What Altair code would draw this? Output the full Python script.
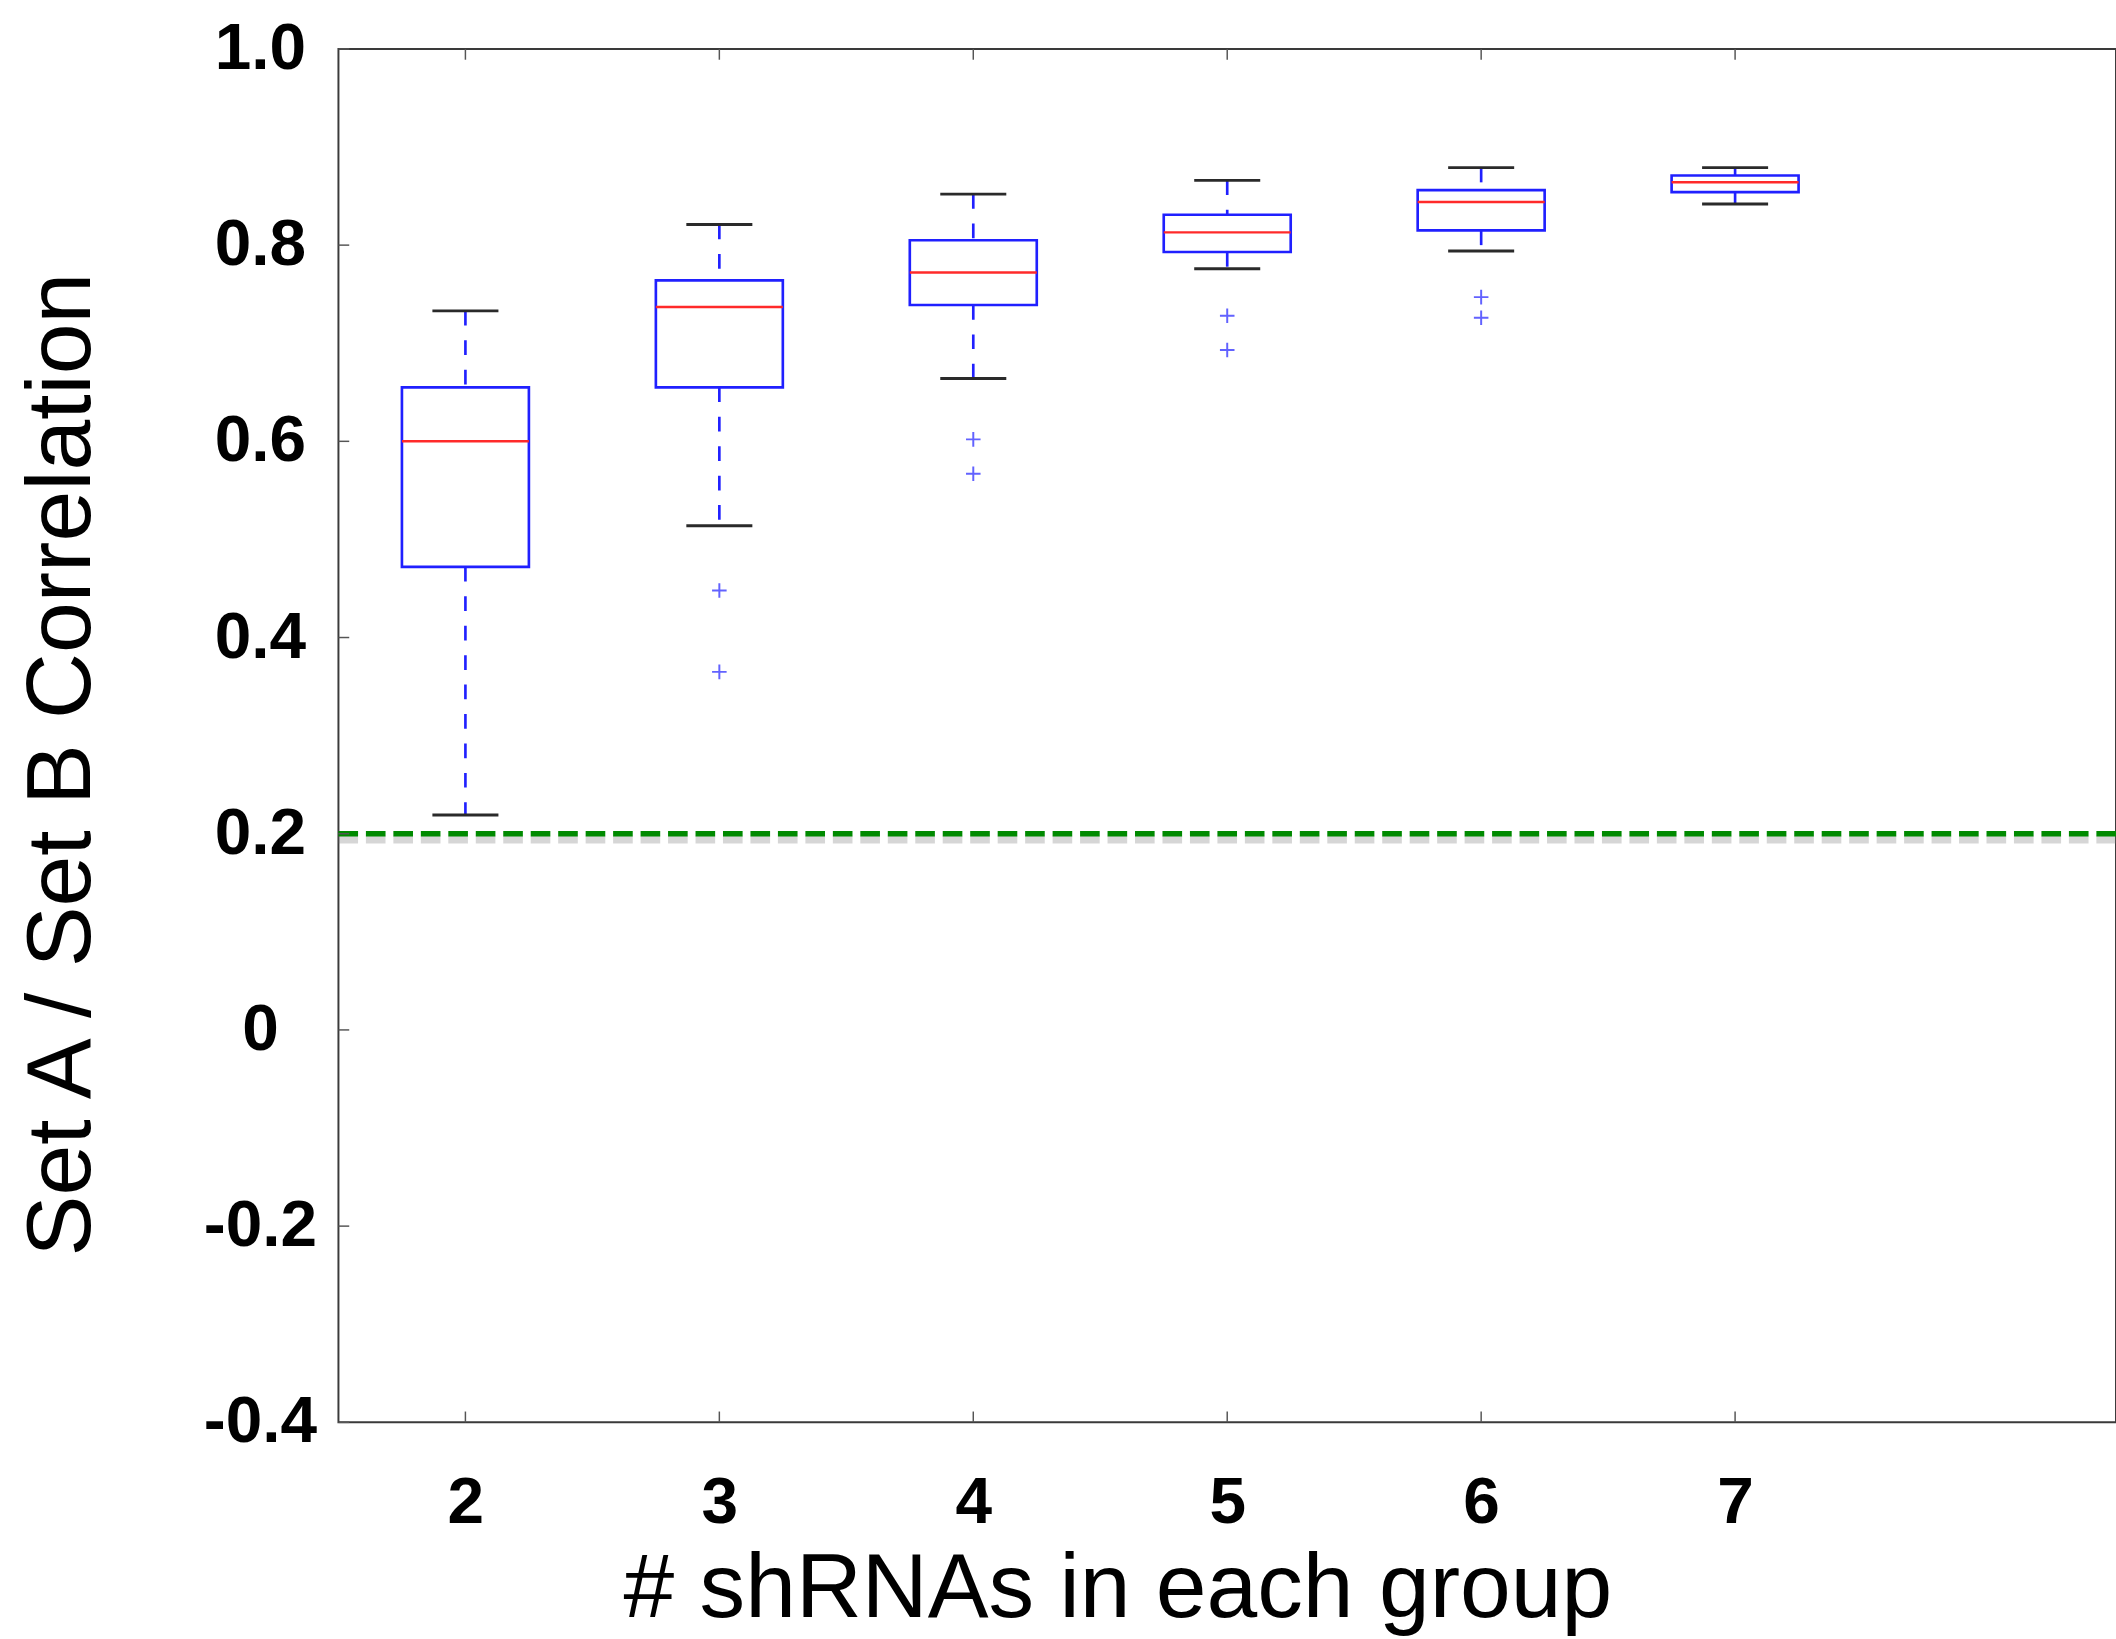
import altair as alt
import pandas as pd

# ---- data ----
groups = [2, 3, 4, 5, 6, 7]
whisker_low = [0.219, 0.514, 0.664, 0.776, 0.794, 0.842]
q1 = [0.472, 0.655, 0.739, 0.793, 0.815, 0.854]
median = [0.600, 0.737, 0.772, 0.813, 0.844, 0.864]
q3 = [0.655, 0.764, 0.805, 0.831, 0.856, 0.871]
whisker_high = [0.733, 0.821, 0.852, 0.866, 0.879, 0.879]

outlier_group = [3, 3, 4, 4, 5, 5, 6, 6]
outlier_value = [0.448, 0.365, 0.602, 0.567, 0.728, 0.693, 0.747, 0.726]

baseline_value = [0.2]

x_ticks = [2, 3, 4, 5, 6, 7]
y_ticks = [-0.4, -0.2, 0.0, 0.2, 0.4, 0.6, 0.8, 1.0]

# ---- layout ----
W, H = 1812, 1400
FONT = "Liberation Sans"
BLUE = "#2020ff"
RED = "#ff2a2a"

boxes = pd.DataFrame({
    "g": groups, "lo": whisker_low, "q1": q1, "med": median,
    "q3": q3, "hi": whisker_high,
})
outl = pd.DataFrame({"g": outlier_group, "v": outlier_value})
base = pd.DataFrame({"v": baseline_value, "g0": [1.5], "g1": [8.5]})
xt = pd.DataFrame({"t": x_ticks})
yt = pd.DataFrame({"t": y_ticks})

xscale = alt.Scale(domain=[1.5, 8.5], nice=False, zero=False)
yscale = alt.Scale(domain=[-0.4, 1.0], nice=False, zero=False)

x_axis = alt.Axis(
    values=x_ticks, title="# shRNAs in each group", format="d",
    labelFont=FONT, labelFontSize=67, labelFontWeight="bold", labelColor="black",
    labelBaseline="alphabetic", labelPadding=102, ticks=False, tickSize=0,
    domain=False, grid=False, labelFlush=False,
    titleFont=FONT, titleFontSize=93, titleFontWeight="normal", titleColor="black",
    titleX=794, titleY=198, titleBaseline="alphabetic", titleAlign="center",
)
y_axis = alt.Axis(
    values=y_ticks, title="Set A / Set B Correlation",
    labelExpr="datum.value == 0 ? '0' : (datum.value < 0 ? '-' + format(-datum.value, '.1f') : format(datum.value, '.1f'))",
    labelFont=FONT, labelFontSize=67, labelFontWeight="bold", labelColor="black",
    labelPadding=80, labelAlign="center", ticks=False, tickSize=0, domain=False, grid=False,
    labelFlush=False, labelBaseline="middle",
    titleFont=FONT, titleFontSize=93, titleFontWeight="normal", titleColor="black",
    titleX=-254, titleY=729, titleAngle=-90, titleBaseline="alphabetic", titleAlign="center",
)

bx = boxes.copy()

# first layer carries the axes
shadow = alt.Chart(base).mark_rule(
    color="#777777", opacity=0.3, strokeWidth=8, strokeDash=[20, 8], yOffset=6
).encode(
    x=alt.X("g0:Q", scale=xscale, axis=x_axis), x2="g1:Q",
    y=alt.Y("v:Q", scale=yscale, axis=y_axis),
)

green = alt.Chart(base).mark_rule(
    color="#008a00", strokeWidth=5.5, strokeDash=[20, 8]
).encode(x=alt.X("g0:Q"), x2="g1:Q", y=alt.Y("v:Q"))

whisk_up = alt.Chart(bx).mark_rule(
    color=BLUE, strokeWidth=2.7, strokeDash=[15, 15]
).encode(x=alt.X("g:Q"), y=alt.Y("hi:Q"), y2="q3:Q")
whisk_dn = alt.Chart(bx).mark_rule(
    color=BLUE, strokeWidth=2.7, strokeDash=[15, 15]
).encode(x=alt.X("g:Q"), y=alt.Y("q1:Q"), y2="lo:Q")

box = alt.Chart(bx).transform_calculate(
    xl="datum.g - 0.25", xr="datum.g + 0.25"
).mark_rect(
    fill="white", fillOpacity=0, stroke=BLUE, strokeWidth=2.7
).encode(x=alt.X("xl:Q"), x2="xr:Q", y=alt.Y("q1:Q"), y2="q3:Q")

med = alt.Chart(bx).transform_calculate(
    xl="datum.g - 0.25", xr="datum.g + 0.25"
).mark_rule(color=RED, strokeWidth=2.5).encode(
    x=alt.X("xl:Q"), x2="xr:Q", y=alt.Y("med:Q"))

cap_hi = alt.Chart(bx).transform_calculate(
    xl="datum.g - 0.13", xr="datum.g + 0.13"
).mark_rule(color="#2a2a2a", strokeWidth=3).encode(
    x=alt.X("xl:Q"), x2="xr:Q", y=alt.Y("hi:Q"))
cap_lo = alt.Chart(bx).transform_calculate(
    xl="datum.g - 0.13", xr="datum.g + 0.13"
).mark_rule(color="#2a2a2a", strokeWidth=3).encode(
    x=alt.X("xl:Q"), x2="xr:Q", y=alt.Y("lo:Q"))

pts = alt.Chart(outl).mark_point(
    shape="M-1,0L1,0M0,-1L0,1", filled=False, color=BLUE, size=220, strokeWidth=2
).encode(x=alt.X("g:Q"), y=alt.Y("v:Q"))

TICK = "#555555"
tick_top = alt.Chart(xt).mark_rule(color=TICK, strokeWidth=1.5).encode(
    x=alt.X("t:Q"), y=alt.value(0), y2=alt.value(11))
tick_bot = alt.Chart(xt).mark_rule(color=TICK, strokeWidth=1.5).encode(
    x=alt.X("t:Q"), y=alt.value(H), y2=alt.value(H - 11))
tick_left = alt.Chart(yt).mark_rule(color=TICK, strokeWidth=1.5).encode(
    y=alt.Y("t:Q"), x=alt.value(0), x2=alt.value(11))

chart = alt.layer(
    shadow, green, whisk_up, whisk_dn, box, med, cap_hi, cap_lo, pts,
    tick_top, tick_bot, tick_left,
).properties(
    width=W, height=H,
    autosize=alt.AutoSizeParams(type="none"),
    padding={"left": 345, "top": 34, "right": 0, "bottom": 205},
    background="white",
).configure_view(
    stroke="#3a3a3a", strokeWidth=2
)

chart.save("out.html", embed_options={"renderer": "svg", "actions": False})
